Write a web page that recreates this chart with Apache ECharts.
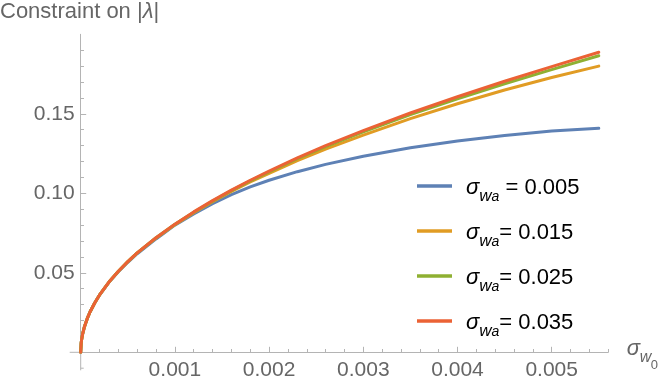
<!DOCTYPE html>
<html>
<head>
<meta charset="UTF-8">
<script src="https://cdn.jsdelivr.net/npm/echarts@6/dist/echarts.min.js"></script>
<style>html,body{margin:0;padding:0;background:#fff}</style>
</head>
<body>
<div id="main" style="width:664px;height:385px;"></div>
<script>
// sigma_w0 sample points (x) and |lambda| constraint for each sigma_wa
var sigmaW0 = [0, 0.000005, 0.00001, 0.00002, 0.00004, 0.00007, 0.0001, 0.00015, 0.0002, 0.0003, 0.0004, 0.0005,
    0.0006, 0.0008, 0.001, 0.0012, 0.0014, 0.0016, 0.0018, 0.002, 0.0023, 0.0026, 0.003, 0.0035, 0.004, 0.0045,
    0.005, 0.0055];
var lamWa005 = [0, 0.0057, 0.0081, 0.0114, 0.0161, 0.0213, 0.0255, 0.0312, 0.0360, 0.0440, 0.0507, 0.0566,
    0.0620, 0.0713, 0.0800, 0.0870, 0.0935, 0.0992, 0.1040, 0.1082, 0.1136, 0.1182, 0.1233, 0.1286, 0.1329, 0.1364,
    0.1392, 0.1409];
var lamWa015 = [0, 0.0057, 0.0081, 0.0114, 0.0161, 0.0213, 0.0255, 0.0312, 0.0361, 0.0442, 0.0510, 0.0570,
    0.0625, 0.0719, 0.0802, 0.0878, 0.0947, 0.1011, 0.1072, 0.1125, 0.1205, 0.1278, 0.1366, 0.1470, 0.1563, 0.1650,
    0.1728, 0.1800];
var lamWa025 = [0, 0.0057, 0.0081, 0.0114, 0.0161, 0.0213, 0.0255, 0.0312, 0.0361, 0.0442, 0.0510, 0.0570,
    0.0625, 0.0721, 0.0805, 0.0881, 0.0951, 0.1017, 0.1078, 0.1135, 0.1218, 0.1294, 0.1386, 0.1495, 0.1594, 0.1689,
    0.1778, 0.1865];
var lamWa035 = [0, 0.0057, 0.0081, 0.0114, 0.0161, 0.0213, 0.0255, 0.0312, 0.0361, 0.0442, 0.0510, 0.0570,
    0.0625, 0.0721, 0.0806, 0.0883, 0.0954, 0.1020, 0.1082, 0.1139, 0.1223, 0.1300, 0.1394, 0.1505, 0.1607, 0.1705,
    0.1797, 0.1887];

var waLabels = ['0.005', '0.015', '0.025', '0.035'];
var waColors = ['#5e81b5', '#e19c24', '#8fb032', '#eb6235'];

var xMajor = [0.001, 0.002, 0.003, 0.004, 0.005];
var xMinor = [0.0002, 0.0004, 0.0006, 0.0008, 0.0012, 0.0014, 0.0016, 0.0018, 0.0022, 0.0024, 0.0026, 0.0028,
    0.0032, 0.0034, 0.0036, 0.0038, 0.0042, 0.0044, 0.0046, 0.0048, 0.0052, 0.0054, 0.0056];
var yMajor = [0.05, 0.10, 0.15];
var yMinor = [0.01, 0.02, 0.03, 0.04, 0.06, 0.07, 0.08, 0.09, 0.11, 0.12, 0.13, 0.14, 0.16, 0.17, 0.18, 0.19];

var axisGray = '#b4b4b4';
var labelGray = '#666666';
var font = '"Liberation Sans", Arial, sans-serif';

var allLam = [lamWa005, lamWa015, lamWa025, lamWa035];
var series = allLam.map(function (ys, i) {
    return {
        name: 'wa' + waLabels[i],
        type: 'line',
        data: sigmaW0.map(function (x, k) { return [x, ys[k]]; }),
        showSymbol: false,
        symbol: 'none',
        smooth: false,
        color: waColors[i],
        lineStyle: { width: 3, color: waColors[i], join: 'round', cap: 'round' },
        z: 2 + i
    };
});

var chart = echarts.init(document.getElementById('main'), null, { renderer: 'canvas' });
var option = {
    animation: false,
    backgroundColor: '#ffffff',
    textStyle: { fontFamily: font },
    title: {
        text: 'Constraint on |{i|λ}|',
        left: 0, top: 1, padding: 0,
        textStyle: {
            fontSize: 22, fontWeight: 'normal', color: labelGray, fontFamily: font,
            rich: { i: { fontSize: 22, fontStyle: 'italic', color: labelGray, fontFamily: font } }
        }
    },
    grid: {
        left: 80.7, right: 55.8, top: 34.3, bottom: 32.7,
        containLabel: false, outerBoundsMode: 'none'
    },
    legend: {
        orient: 'vertical',
        left: 417, top: 177,
        itemWidth: 35, itemHeight: 3.5, itemGap: 17.5,
        icon: 'rect',
        padding: 0,
        selectedMode: false,
        data: series.map(function (s) { return s.name; }),
        formatter: function (name) {
            var v = name.slice(2);
            return '{s|σ}{w|w}{a|a}{e|' + (v === '0.005' ? ' = ' : '= ') + v + '}';
        },
        textStyle: {
            padding: [4, 0, 0, 9],
            color: '#000',
            rich: {
                s: { fontSize: 22, fontStyle: 'italic', lineHeight: 33, color: '#000', fontFamily: font },
                w: { fontSize: 17, fontStyle: 'italic', lineHeight: 21, verticalAlign: 'bottom', color: '#000', fontFamily: font },
                a: { fontSize: 14, fontStyle: 'italic', lineHeight: 14, verticalAlign: 'bottom', color: '#000', fontFamily: font },
                e: { fontSize: 22, color: '#000', fontFamily: font }
            }
        }
    },
    xAxis: [{
        type: 'value', min: 0, max: 0.0056,
        axisLine: { show: true, onZero: false, lineStyle: { color: axisGray, width: 1 } },
        axisTick: { show: true, inside: true, length: 5.5, customValues: xMajor, lineStyle: { color: axisGray } },
        axisLabel: {
            customValues: xMajor, margin: 7, fontSize: 21, color: labelGray, fontFamily: font,
            formatter: function (v) { return v.toFixed(3); }
        },
        splitLine: { show: false }
    }, {
        type: 'value', min: 0, max: 0.0056, position: 'bottom',
        axisLine: { show: false, onZero: false },
        axisTick: { show: true, inside: true, length: 3.3, customValues: xMinor, lineStyle: { color: axisGray } },
        axisLabel: { show: false },
        splitLine: { show: false }
    }],
    yAxis: [{
        type: 'value', min: 0, max: 0.2,
        axisLine: { show: true, onZero: false, lineStyle: { color: axisGray, width: 1 } },
        axisTick: { show: true, inside: true, length: 5.5, customValues: yMajor, lineStyle: { color: axisGray } },
        axisLabel: {
            customValues: yMajor, margin: 6, fontSize: 21, color: labelGray, fontFamily: font,
            formatter: function (v) { return v.toFixed(2); }
        },
        splitLine: { show: false }
    }, {
        type: 'value', min: 0, max: 0.2, position: 'left',
        axisLine: { show: false, onZero: false },
        axisTick: { show: true, inside: true, length: 3.3, customValues: yMinor, lineStyle: { color: axisGray } },
        axisLabel: { show: false },
        splitLine: { show: false }
    }],
    series: series
};
chart.setOption(option);

// Mathematica-style axis stubs past the origin, and the x axis name sigma_{w_0}
var o = chart.convertToPixel({ gridIndex: 0 }, [0, 0]);
var xEnd = chart.convertToPixel({ xAxisIndex: 0 }, 0.0056);
var yStub = chart.convertToPixel({ yAxisIndex: 0 }, -0.01);
function nameText(str, x, baseline, size, italic) {
    return {
        type: 'text', silent: true,
        style: {
            text: str, x: x, y: baseline - 0.35 * size, verticalAlign: 'middle', align: 'left',
            fontSize: size, fontStyle: italic ? 'italic' : 'normal', fontFamily: font, fill: labelGray
        }
    };
}
chart.setOption({
    graphic: [
        { type: 'line', silent: true, shape: { x1: o[0] - 11, y1: o[1], x2: o[0], y2: o[1] }, style: { stroke: axisGray, lineWidth: 1 } },
        { type: 'line', silent: true, shape: { x1: o[0], y1: o[1], x2: o[0], y2: o[1] + 18 }, style: { stroke: axisGray, lineWidth: 1 } },
        { type: 'line', silent: true, shape: { x1: o[0], y1: yStub, x2: o[0] + 3, y2: yStub }, style: { stroke: axisGray, lineWidth: 1 } },
        nameText('σ', xEnd + 18.5, o[1] + 4.7, 22, true),
        nameText('w', xEnd + 31.5, o[1] + 10.7, 16, true),
        nameText('0', xEnd + 42.5, o[1] + 17.7, 13, false)
    ]
});
</script>
</body>
</html>
